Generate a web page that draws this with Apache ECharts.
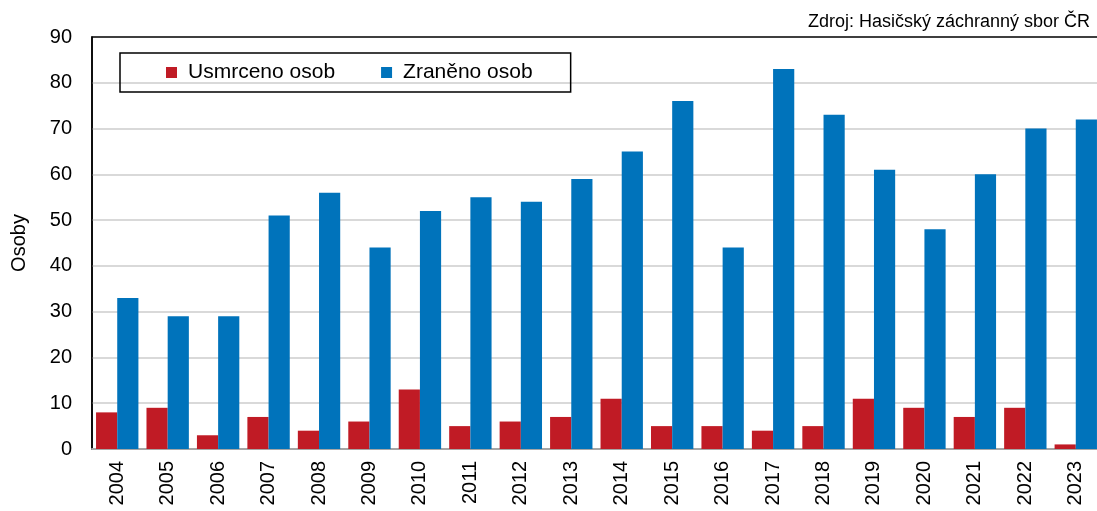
<!DOCTYPE html>
<html>
<head>
<meta charset="utf-8">
<script src="https://cdn.jsdelivr.net/npm/echarts@6/dist/echarts.min.js"></script>
<style>html,body{margin:0;padding:0;background:#fff;}#c{width:1097px;height:511px;}</style>
</head>
<body>
<div id="c"></div>
<script>
const years = ['2004','2005','2006','2007','2008','2009','2010','2011','2012','2013','2014','2015','2016','2017','2018','2019','2020','2021','2022','2023'];
const killed = [8, 9, 3, 7, 4, 6, 13, 5, 6, 7, 11, 5, 5, 4, 5, 11, 9, 7, 9, 1];
const injured = [33, 29, 29, 51, 56, 44, 52, 55, 54, 59, 65, 76, 44, 83, 73, 61, 48, 60, 70, 72];
const seriesNames = ['Usmrceno osob', 'Zraněno osob'];
const sourceText = 'Zdroj: Hasičský záchranný sbor ČR';
const yTitle = 'Osoby';

const FONT = '"Liberation Sans", Arial, sans-serif';
const chart = echarts.init(document.getElementById('c'), null, {renderer: 'canvas'});
chart.setOption({
  animation: false,
  backgroundColor: '#fff',
  textStyle: {fontFamily: FONT},
  title: {
    text: sourceText,
    right: 2, top: 8,
    textStyle: {fontFamily: FONT, fontSize: 18, fontWeight: 'normal', color: '#000'}
  },
  legend: {
    left: 120, top: 53,
    padding: [9, 38, 9, 46],
    borderColor: '#000', borderWidth: 1.5,
    itemWidth: 11, itemHeight: 11, itemGap: 46,
    icon: 'rect',
    textStyle: {fontFamily: FONT, fontSize: 21, color: '#000', padding: [0, 0, 0, 6]},
    data: seriesNames
  },
  grid: {
    left: 92, right: -4, top: 37, bottom: 62,
    outerBoundsMode: 'none', containLabel: false,
    show: true, borderColor: '#000', borderWidth: 1.5, backgroundColor: 'transparent'
  },
  xAxis: {
    type: 'category', data: years,
    axisLine: {lineStyle: {color: '#a6a6a6', width: 2}},
    axisTick: {show: false},
    axisLabel: {rotate: 90, fontSize: 20, color: '#000', fontFamily: FONT, margin: 12}
  },
  yAxis: {
    type: 'value', min: 0, max: 90, interval: 10,
    name: yTitle, nameLocation: 'middle', nameGap: 63, nameRotate: 90,
    nameTextStyle: {fontSize: 20, color: '#000', fontFamily: FONT},
    axisLine: {show: true, lineStyle: {color: '#000', width: 1.5}},
    axisTick: {show: false},
    axisLabel: {fontSize: 20, color: '#000', fontFamily: FONT, margin: 20},
    splitLine: {showMaxLine: false, lineStyle: {color: '#d9d9d9', width: 2}}
  },
  series: [
    {name: seriesNames[0], type: 'bar', data: killed, barGap: '0%', barCategoryGap: '16%',
     itemStyle: {color: '#C01B25'}},
    {name: seriesNames[1], type: 'bar', data: injured, barGap: '0%', barCategoryGap: '16%',
     itemStyle: {color: '#0073BB'}}
  ]
});
</script>
</body>
</html>
